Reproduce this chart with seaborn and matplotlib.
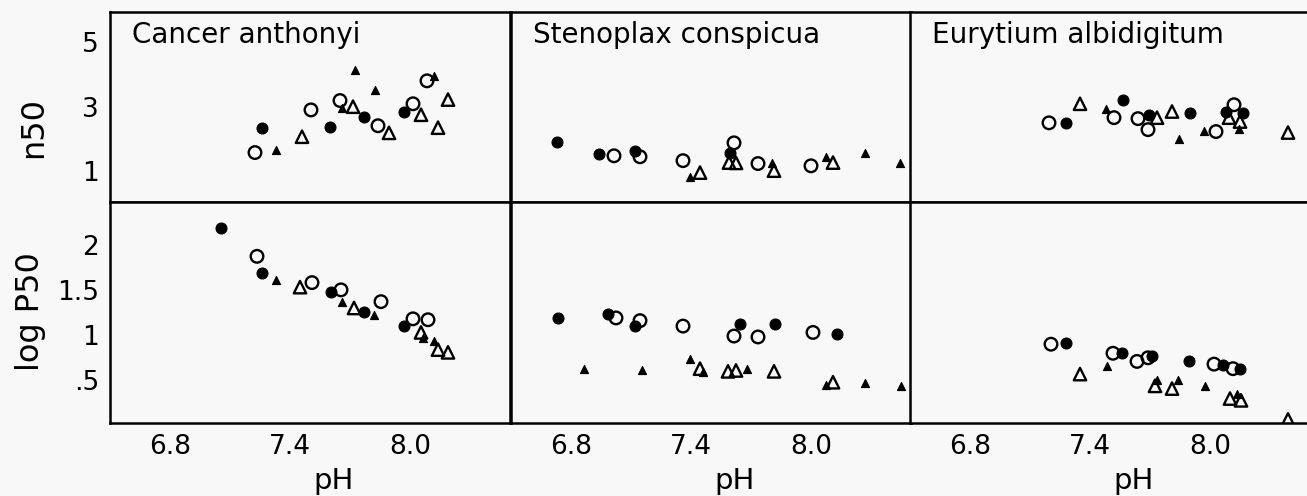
import numpy as np
import pandas as pd
import matplotlib
matplotlib.use("Agg")
import matplotlib.pyplot as plt
from matplotlib.ticker import MultipleLocator
import seaborn as sns

sns.set_style("white")
plt.rcParams['font.family'] = ['DejaVu Sans']
plt.rcParams['text.color'] = 'black'
plt.rcParams['axes.labelcolor'] = 'black'
plt.rcParams['xtick.color'] = 'black'
plt.rcParams['ytick.color'] = 'black'

# fc = filled circle, oc = open circle, ft = filled triangle, ot = open triangle
species = ["Cancer anthonyi", "Stenoplax conspicua", "Eurytium albidigitum"]

# --- n50, Cancer anthonyi
ca_n_ph = [7.225, 7.26, 7.33, 7.46, 7.505, 7.60, 7.65, 7.66, 7.715, 7.725, 7.77, 7.825,
           7.84, 7.895, 7.97, 8.015, 8.055, 8.085, 8.12, 8.14, 8.19]
ca_n_val = [1.58, 2.35, 1.67, 2.07, 2.9, 2.38, 3.19, 2.97, 3.0, 4.15, 2.69, 3.53,
            2.41, 2.19, 2.84, 3.09, 2.75, 3.8, 3.96, 2.35, 3.22]
ca_n_kind = ["oc", "fc", "ft", "ot", "oc", "fc", "oc", "ft", "ot", "ft", "fc", "ft",
             "oc", "ot", "fc", "oc", "ot", "oc", "ft", "ot", "ot"]

# --- n50, Stenoplax conspicua
sc_n_ph = [6.73, 6.94, 7.015, 7.12, 7.145, 7.36, 7.395, 7.445, 7.615, 7.595, 7.59, 7.625,
           7.735, 7.805, 7.815, 8.0, 8.075, 8.11, 8.27, 8.445]
sc_n_val = [1.92, 1.54, 1.48, 1.64, 1.45, 1.33, 0.83, 0.96, 1.88, 1.58, 1.27, 1.26,
            1.24, 1.27, 1.02, 1.17, 1.45, 1.27, 1.56, 1.27]
sc_n_kind = ["fc", "fc", "oc", "fc", "oc", "oc", "ft", "ot", "oc", "fc", "ot", "ot",
             "oc", "ft", "ot", "oc", "ft", "ot", "ft", "ft"]

# --- n50, Eurytium albidigitum
ea_n_ph = [7.195, 7.28, 7.35, 7.48, 7.52, 7.565, 7.64, 7.695, 7.735, 7.69, 7.81, 7.845,
           7.9, 7.97, 8.03, 8.08, 8.12, 8.095, 8.165, 8.15, 8.145, 8.39]
ea_n_val = [2.5, 2.5, 3.09, 2.94, 2.66, 3.22, 2.63, 2.75, 2.66, 2.29, 2.85, 2.0,
            2.81, 2.26, 2.23, 2.85, 3.06, 2.66, 2.81, 2.54, 2.32, 2.2]
ea_n_kind = ["oc", "fc", "ot", "ft", "oc", "fc", "oc", "fc", "ot", "oc", "ot", "ft",
             "fc", "ft", "oc", "fc", "oc", "ot", "fc", "ot", "ft", "ot"]

# --- log P50, Cancer anthonyi
ca_p_ph = [7.055, 7.235, 7.26, 7.33, 7.45, 7.51, 7.605, 7.655, 7.66, 7.72, 7.77, 7.82,
           7.855, 7.97, 8.015, 8.055, 8.065, 8.09, 8.12, 8.14, 8.19]
ca_p_val = [2.18, 1.87, 1.69, 1.61, 1.53, 1.58, 1.48, 1.5, 1.37, 1.3, 1.26, 1.22,
            1.37, 1.1, 1.18, 1.03, 0.97, 1.17, 0.93, 0.84, 0.81]
ca_p_kind = ["fc", "oc", "fc", "ft", "ot", "oc", "fc", "oc", "ft", "ot", "fc", "ft",
             "oc", "fc", "oc", "ot", "ft", "oc", "ft", "ot", "ot"]

# --- log P50, Stenoplax conspicua
sc_p_ph = [6.735, 6.985, 7.025, 7.12, 7.145, 7.36, 7.645, 7.615, 7.735, 7.82, 8.01, 8.13,
           6.865, 7.155, 7.395, 7.445, 7.46, 7.585, 7.625, 7.68, 7.815, 8.075, 8.11, 8.27, 8.45]
sc_p_val = [1.19, 1.23, 1.19, 1.1, 1.16, 1.1, 1.12, 0.99, 0.98, 1.12, 1.03, 1.01,
            0.63, 0.62, 0.74, 0.63, 0.59, 0.6, 0.61, 0.63, 0.6, 0.45, 0.48, 0.47, 0.44]
sc_p_kind = ["fc", "fc", "oc", "fc", "oc", "oc", "fc", "oc", "oc", "fc", "oc", "fc",
             "ft", "ft", "ft", "ot", "ft", "ot", "ot", "ft", "ot", "ft", "ot", "ft", "ft"]

# --- log P50, Eurytium albidigitum
ea_p_ph = [7.205, 7.28, 7.35, 7.485, 7.515, 7.56, 7.635, 7.69, 7.71, 7.725, 7.735, 7.81,
           7.84, 7.895, 7.975, 8.02, 8.065, 8.115, 8.15, 8.1, 8.135, 8.155, 8.39]
ea_p_val = [0.9, 0.91, 0.57, 0.66, 0.8, 0.8, 0.71, 0.75, 0.77, 0.44, 0.51, 0.41,
            0.51, 0.72, 0.44, 0.68, 0.67, 0.63, 0.63, 0.3, 0.35, 0.28, 0.07]
ea_p_kind = ["oc", "fc", "ot", "ft", "oc", "fc", "oc", "oc", "fc", "ot", "ft", "ot",
             "ft", "fc", "ft", "oc", "fc", "oc", "fc", "ot", "ft", "ot", "ot"]

top_ticks = [1, 3, 5]
top_labels = ["1", "3", "5"]
bot_ticks = [0.5, 1, 1.5, 2]
bot_labels = [".5", "1", "1.5", "2"]
x_ticks = [6.8, 7.4, 8.0]
x_labels = ["6.8", "7.4", "8.0"]

frames = []
for sp, row, ph, val, kind in [
        (species[0], "n50", ca_n_ph, ca_n_val, ca_n_kind),
        (species[1], "n50", sc_n_ph, sc_n_val, sc_n_kind),
        (species[2], "n50", ea_n_ph, ea_n_val, ea_n_kind),
        (species[0], "logP50", ca_p_ph, ca_p_val, ca_p_kind),
        (species[1], "logP50", sc_p_ph, sc_p_val, sc_p_kind),
        (species[2], "logP50", ea_p_ph, ea_p_val, ea_p_kind)]:
    frames.append(pd.DataFrame({"species": sp, "row": row, "pH": ph, "value": val, "kind": kind}))
df = pd.concat(frames, ignore_index=True)

styles = {
    "fc": dict(marker="o", s=62, facecolor="black", edgecolor="black", linewidth=0.8),
    "oc": dict(marker="o", s=82, facecolor="none", edgecolor="black", linewidth=1.7),
    "ft": dict(marker="^", s=34, facecolor="black", edgecolor="black", linewidth=0.8),
    "ot": dict(marker="^", s=80, facecolor="none", edgecolor="black", linewidth=1.7),
}

bg = "#f8f8f8"
fig = plt.figure(figsize=(13.07, 4.96), dpi=100, facecolor=bg)
W, H = 1307.0, 496.0
lefts = [110, 511, 910]
pw = 400

for r, row in enumerate(["n50", "logP50"]):
    for c, sp in enumerate(species):
        if r == 0:
            rect = [lefts[c] / W, (H - 202) / H, pw / W, 190 / H]
        else:
            rect = [lefts[c] / W, (H - 423) / H, pw / W, 221 / H]
        ax = fig.add_axes(rect)
        ax.set_facecolor(bg)
        sub = df[(df["species"] == sp) & (df["row"] == row)]
        for k in ["ot", "oc", "ft", "fc"]:
            d = sub[sub["kind"] == k]
            sns.scatterplot(data=d, x="pH", y="value", ax=ax, legend=False, zorder=3, **styles[k])
        ax.set_xlim(6.5, 8.5)
        if r == 0:
            ax.set_ylim(0.05, 5.93)
        else:
            ax.set_ylim(0.03, 2.47)
        for sp_ in ax.spines.values():
            sp_.set_linewidth(1.8)
            sp_.set_color("black")
        ax.set_xlabel("")
        ax.set_ylabel("")
        ax.tick_params(direction="in", length=9, width=1.6, labelsize=19, pad=8, colors="black")
        ax.tick_params(which="minor", direction="in", length=5, width=1.3)
        if c == 0:
            if r == 0:
                ax.set_yticks(top_ticks)
                ax.set_yticklabels(top_labels, fontsize=19)
            else:
                ax.set_yticks(bot_ticks)
                ax.set_yticklabels(bot_labels, fontsize=19)
        else:
            ax.set_yticks([])
        if r == 1:
            ax.set_xticks(x_ticks)
            ax.set_xticklabels(x_labels, fontsize=19)
            ax.xaxis.set_minor_locator(MultipleLocator(0.1))
            ax.set_xlabel("pH", fontsize=21)
            ax.xaxis.set_label_coords(0.56, -0.2)
        else:
            ax.set_xticks([])
            ax.text(0.055, 0.955, sp, transform=ax.transAxes, ha="left", va="top",
                    fontsize=20, color="black")

fig.text(34 / W, (H - 128) / H, "n50", rotation=90, ha="center", va="center", fontsize=23)
fig.text(30 / W, (H - 312) / H, "log P50", rotation=90, ha="center", va="center", fontsize=23)

fig.savefig("out.png", dpi=100, facecolor=bg)
